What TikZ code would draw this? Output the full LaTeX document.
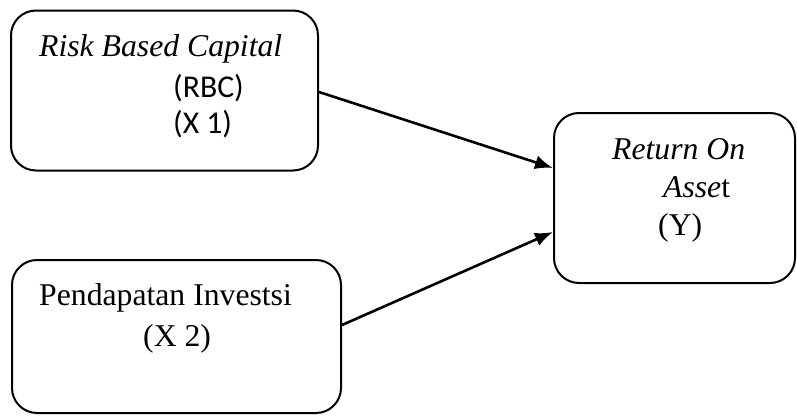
\documentclass[tikz,border=0pt]{standalone}
\usepackage{fontspec}
\setmainfont{Liberation Serif}
\newfontfamily\calibri{Carlito}
\usetikzlibrary{arrows.meta}

\begin{document}
\begin{tikzpicture}[x=1pt,y=-1pt,
  box/.style={draw,line width=2pt,rounded corners=25pt,inner sep=0pt},
  txt/.style={anchor=base west,inner sep=0pt,font=\fontsize{31.7pt}{38pt}\selectfont},
  link/.style={line width=2.6pt,-{Latex[length=18pt,width=14pt]}}]
\useasboundingbox (0,0) rectangle (797,415);

\node[box,minimum width=307pt,minimum height=160pt] (rbc) at (164.5,90.5) {};
\node[box,minimum width=329pt,minimum height=153pt] (inv) at (176.5,336.5) {};
\node[box,minimum width=241pt,minimum height=170pt] (roa) at (674.5,198) {};

\node[txt] (rbcname) at (39,56) {\textit{Risk Based Capital}};
\node[txt] (rbcabbr) at (173,97) {\calibri (RBC)};
\node[txt] (rbcvar) at (173,133) {\calibri (X 1)};

\node[txt] (invname) at (39,305) {Pendapatan Investsi};
\node[txt] (invvar) at (143,346) {(X 2)};

\node[txt] (roaname) at (612,159) {\textit{Return On}};
\node[txt] (roaname2) at (663,197) {\textit{Asse}t};
\node[txt] (roavar) at (658,235) {(Y)};

\draw[link] ([yshift=-1.5pt]rbc.east) -- ([yshift=30pt]roa.west);
\draw[link] ([yshift=11.5pt]inv.east) -- ([yshift=-34pt]roa.west);
\end{tikzpicture}
\end{document}
